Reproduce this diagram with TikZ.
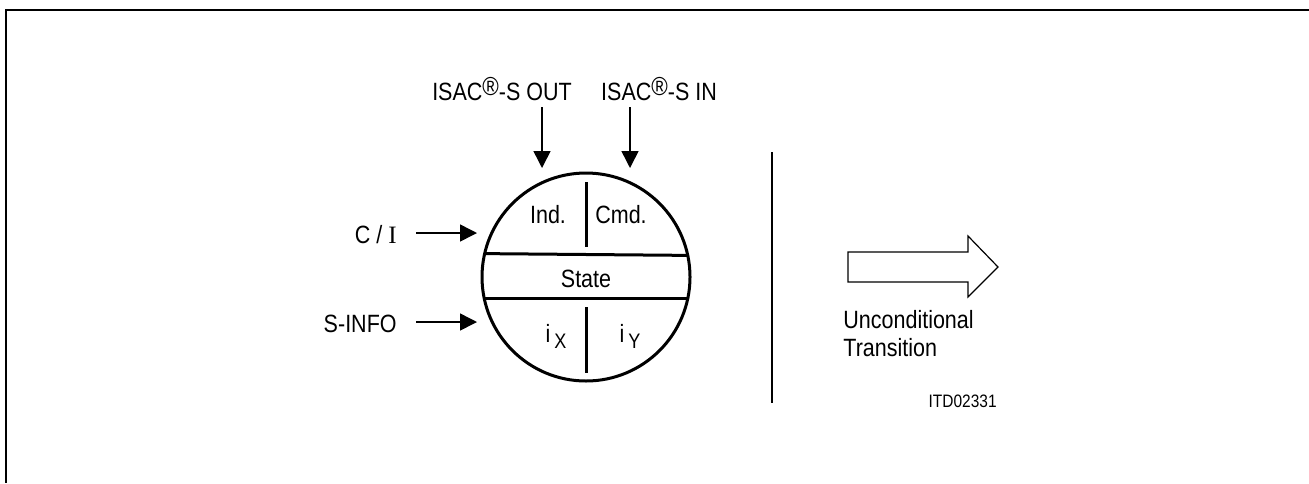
\documentclass[tikz,border=0pt]{standalone}
\usepackage{fontspec}
\setmainfont{Liberation Sans}[FakeStretch=0.86]
\newfontfamily\romanI{Liberation Serif}
\usetikzlibrary{arrows.meta,positioning}

\newcommand{\lowsub}[1]{\raisebox{-3pt}{\fontsize{10.5}{12}\selectfont #1}}
\newcommand{\regsup}{\raisebox{2.5pt}{\fontsize{13}{13}\selectfont\textregistered}}

\tikzset{
  lbl/.style={inner sep=0pt,font=\fontsize{12.5}{14}\selectfont},
  codelbl/.style={inner sep=0pt,font=\fontsize{9}{10}\selectfont},
  inarrow/.style={line width=0.75pt,-{Triangle[length=8.5pt,width=8.5pt]}},
  heavy/.style={line width=1.5pt}
}

\begin{document}
\begin{tikzpicture}[x=0.5pt,y=-0.5pt]
\useasboundingbox (0,0) rectangle (1309,483);
\draw[line width=0.65pt] (1309,10) -- (6,10) -- (6,483);

% state circle
\node[circle,draw,heavy,minimum size=104pt,inner sep=0pt,outer sep=0pt] (st) at (586,277) {};
\draw[heavy] (st.167.2) -- (st.12.8);
\draw[heavy] (st.192.8) -- (st.-12.8);
\draw[heavy] (586,182) -- (586,247);
\draw[heavy] (586,307) -- (586,373);
\node[lbl,anchor=base] (ind) at (548,223) {Ind.};
\node[lbl,anchor=base] (cmd) at (621,223) {Cmd.};
\node[lbl,anchor=base] (state) at (586,287) {State};
\node[lbl,anchor=base] (ix) at (556,342) {i\,\lowsub{X}};
\node[lbl,anchor=base] (iy) at (630,342) {i\,\lowsub{Y}};

% inputs
\node[lbl,anchor=base] (isacout) at (502,100) {ISAC\regsup-S OUT};
\node[lbl,anchor=base] (isacin) at (659,100) {ISAC\regsup-S IN};
\node[lbl,anchor=base east] (ci) at (397,243) {C / {\romanI I}};
\node[lbl,anchor=base east] (sinfo) at (397,332) {S-INFO};
\coordinate (outtail) at (542,107);
\coordinate (outtip) at (542,168);
\coordinate (intail) at (630,107);
\coordinate (intip) at (630,168);
\coordinate (citail) at (416,233);
\coordinate (citip) at (477,233);
\coordinate (sitail) at (416,322);
\coordinate (sitip) at (477,322);
\draw[inarrow] (outtail) -- (outtip);
\draw[inarrow] (intail) -- (intip);
\draw[inarrow] (citail) -- (citip);
\draw[inarrow] (sitail) -- (sitip);

% legend
\draw[line width=0.75pt] (772,152) -- (772,403);
\draw[line width=0.6pt] (848,252) -- (968,252) -- (968,236) -- (998,267) -- (968,297) -- (968,282) -- (848,282) -- cycle;
\node[lbl,anchor=base west] (uncond) at (843,328) {Unconditional};
\node[lbl,anchor=base west] (trans) at ([yshift=-14pt]uncond.base west) {Transition};
\node[codelbl,anchor=base east] (itd) at (997,407) {ITD02331};
\end{tikzpicture}
\end{document}
